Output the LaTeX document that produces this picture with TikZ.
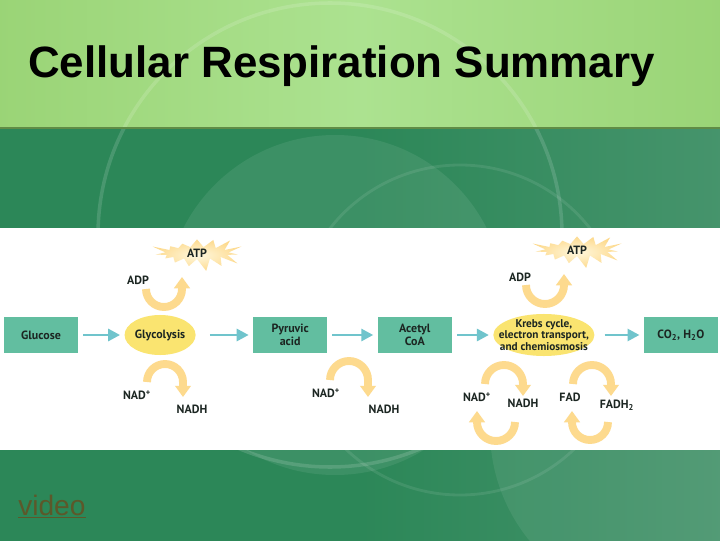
\documentclass[tikz,border=0pt]{standalone}
\usepackage{fontspec}
\setmainfont{Liberation Sans}
\newfontfamily\diagfont{PT Sans}
\usepackage{tikz}
\usetikzlibrary{positioning, arrows.meta, shapes.geometric, shapes.symbols}
\definecolor{topgreen}{RGB}{154,212,118}
\definecolor{topgreenlight}{RGB}{172,226,144}
\definecolor{deepgreen}{RGB}{44,135,88}
\definecolor{deepgreenlight}{RGB}{70,148,108}
\definecolor{rimline}{RGB}{96,140,70}
\definecolor{stageteal}{RGB}{98,190,160}
\definecolor{flowteal}{RGB}{112,196,204}
\definecolor{procyellow}{RGB}{250,228,112}
\definecolor{carrier}{RGB}{253,218,142}
\definecolor{burstcore}{RGB}{255,248,222}
\definecolor{ink}{RGB}{28,38,34}
\definecolor{linkolive}{RGB}{92,88,42}

\begin{document}
\begin{tikzpicture}[
    x=0.025cm, y=0.025cm,
    node distance=1.15cm,
    every node/.style={font=\diagfont\bfseries\fontsize{8.5}{9}\selectfont, text=ink, inner sep=0pt},
    stage/.style={rectangle, fill=stageteal, minimum width=1.85cm, minimum height=0.9cm,
                  text centered, align=center},
    process/.style={ellipse, fill=procyellow, minimum width=1.775cm, minimum height=1.0cm},
    burst/.style={starburst, starburst points=15, starburst point height=0.38cm,
                  random starburst=45, shading=radial, inner color=burstcore, outer color=carrier,
                  minimum width=2.35cm, minimum height=0.9cm},
    flow/.style={-{Triangle[length=8.5pt, width=8.5pt]}, line width=2pt, draw=flowteal,
                 shorten <=3.5pt, shorten >=3pt},
    shuttle/.style={-{Triangle[length=8pt, width=11pt]}, line width=5.6pt, draw=carrier}
]
\pgfmathsetseed{11}
\useasboundingbox (0,0) rectangle (720,540);

% Slide background
\begin{scope}
  \clip (0,0) rectangle (720,540);
  \fill[deepgreen] (-5,-5) rectangle (725,412);
  \shade[left color=deepgreen, right color=deepgreenlight] (360,-5) rectangle (725,412);
  \shade[left color=topgreen, right color=topgreen, middle color=topgreenlight] (-5,412) rectangle (725,545);
  \fill[white, opacity=0.08] (335,235) circle[radius=170];
  \fill[white, opacity=0.07] (665,110) circle[radius=175];
  \draw[white, opacity=0.14, line width=2.5pt] (330,305) circle[radius=232];
  \draw[white, opacity=0.09, line width=2pt] (460,210) circle[radius=165];
  \draw[rimline, line width=1.8pt] (-5,412) -- (725,412);
\end{scope}

% Title
\node[anchor=base west, font=\fontsize{31.2}{31.2}\selectfont\bfseries, text=black] (title) at (28,462)
  {Cellular Respiration Summary};

% Diagram panel
\fill[white] (-5,90) rectangle (725,312);

% Main chain
\node[stage] (glucose) at (41,205) {Glucose};
\node[process, right=1.15cm of glucose, label=center:Glycolysis] (glyc) {};
\node[stage, right=1.425cm of glyc] (pyruvic) {Pyruvic\\acid};
\node[stage, right=1.25cm of pyruvic] (acetyl) {Acetyl\\CoA};
\node[process, right=1.025cm of acetyl, minimum width=2.525cm, minimum height=1.05cm,
      label={[align=center, font=\diagfont\bfseries\fontsize{8}{8.2}\selectfont]center:Krebs cycle,\\electron transport,\\and chemiosmosis}] (krebs) {};
\node[stage, right=1.225cm of krebs] (products) {CO\textsubscript{2}, H\textsubscript{2}O};

% Arrows along the chain
\draw[flow] (glucose) -- (glyc);
\draw[flow, shorten <=10pt] (glyc) -- (pyruvic);
\draw[flow] (pyruvic) -- (acetyl);
\draw[flow] (acetyl) -- (krebs);
\draw[flow, shorten <=7pt] (krebs) -- (products);

% ATP bursts
\node[burst] (atp-a) at (197,287) {ATP};
\node[burst] (atp-b) at (577,290) {ATP};

% Carrier labels
\node (adp-a) at (138,260) {ADP};
\node (nad-a) at (137,145) {NAD\textsuperscript{+}};
\node (nadh-a) at (192,131) {NADH};
\node (nad-b) at (326,147) {NAD\textsuperscript{+}};
\node (nadh-b) at (384,131) {NADH};
\node (adp-b) at (520,263) {ADP};
\node (nad-c) at (477,143) {NAD\textsuperscript{+}};
\node (nadh-c) at (523,137) {NADH};
\node (fad) at (570,143) {FAD};
\node (fadh) at (617,135) {FADH\textsubscript{2}};

% Glycolysis loops
\coordinate (ga-in) at (146,251);
\coordinate (ga-out) at (182,263);
\draw[shuttle] (ga-in) arc[start angle=180, end angle=360, radius=18] -- (ga-out);
\coordinate (gn-in) at (147,158);
\coordinate (gn-out) at (183,143);
\draw[shuttle] (gn-in) arc[start angle=180, end angle=0, radius=18] -- (gn-out);

% Pyruvic acid -> acetyl CoA loop
\coordinate (pn-in) at (330,160);
\coordinate (pn-out) at (368,143);
\draw[shuttle] (pn-in) arc[start angle=180, end angle=0, radius=19] -- (pn-out);

% Krebs loops
\coordinate (ka-in) at (526,255);
\coordinate (ka-out) at (564,266);
\draw[shuttle] (ka-in) arc[start angle=180, end angle=360, radius=19] -- (ka-out);
\coordinate (kn-in) at (485,156);
\coordinate (kn-out) at (523,144);
\draw[shuttle] (kn-in) arc[start angle=180, end angle=0, radius=19] -- (kn-out);
\coordinate (kn-back) at (515,118);
\coordinate (kn-home) at (477,129);
\draw[shuttle] (kn-back) arc[start angle=0, end angle=-180, radius=19] -- (kn-home);
\coordinate (kf-in) at (573,156);
\coordinate (kf-out) at (611,144);
\draw[shuttle] (kf-in) arc[start angle=180, end angle=0, radius=19] -- (kf-out);
\coordinate (kf-back) at (608,118);
\coordinate (kf-home) at (572,129);
\draw[shuttle] (kf-back) arc[start angle=0, end angle=-180, radius=18] -- (kf-home);

% Link
\node[anchor=base west, font=\fontsize{20}{20}\selectfont, text=linkolive] (video) at (18,25)
  {\underline{video}};

\end{tikzpicture}
\end{document}
